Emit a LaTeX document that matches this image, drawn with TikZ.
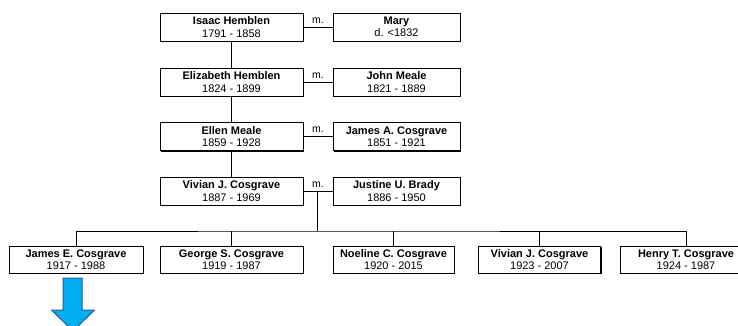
\documentclass[tikz,border=0pt]{standalone}
\usepackage{fontspec}
\setmainfont{Liberation Sans}
\usetikzlibrary{shadows}
\definecolor{arrowfill}{RGB}{0,176,240}
\definecolor{arrowline}{RGB}{47,85,151}
\tikzset{
  person/.style={draw=black, line width=0.9pt, fill=white, align=center,
    inner sep=0pt, minimum height=28pt,
    font=\fontsize{11}{12.5}\selectfont,
    drop shadow={shadow xshift=1.4pt, shadow yshift=-1.4pt, opacity=1, fill=black}},
  link/.style={draw=black, line width=0.9pt},
  marr/.style={font=\fontsize{10.5}{12}\selectfont, inner sep=0pt},
}
\begin{document}
\begin{tikzpicture}[x=1pt,y=-1pt]
\useasboundingbox (0,0) rectangle (738,325);
\clip (0,0) rectangle (738,325);
% generations
\node[person, minimum width=143pt] (isaac) at (231.5,27) {\textbf{Isaac Hemblen}\\1791 - 1858};
\node[person, minimum width=127pt] (mary) at (396.5,27) {\textbf{Mary}\\d. <1832};
\node[person, minimum width=143pt] (eliz) at (231.5,82) {\textbf{Elizabeth Hemblen}\\1824 - 1899};
\node[person, minimum width=127pt] (john) at (396.5,82) {\textbf{John Meale}\\1821 - 1889};
\node[person, minimum width=143pt] (ellen) at (231.5,136.5) {\textbf{Ellen Meale}\\1859 - 1928};
\node[person, minimum width=127pt] (jamesa) at (396.5,136.5) {\textbf{James A. Cosgrave}\\1851 - 1921};
\node[person, minimum width=143pt] (vivian) at (231.5,191) {\textbf{Vivian J. Cosgrave}\\1887 - 1969};
\node[person, minimum width=127pt] (justine) at (396.5,191) {\textbf{Justine U. Brady}\\1886 - 1950};
% children
\node[person, minimum width=134pt, minimum height=27pt] (jamese) at (76,259.5) {\textbf{James E. Cosgrave}\\1917 - 1988};
\node[person, minimum width=143pt, minimum height=27pt] (george) at (231.5,259.5) {\textbf{George S. Cosgrave}\\1919 - 1987};
\node[person, minimum width=121pt, minimum height=27pt] (noeline) at (393.5,259.5) {\textbf{Noeline C. Cosgrave}\\1920 - 2015};
\node[person, minimum width=122pt, minimum height=27pt] (vivianb) at (539.5,259.5) {\textbf{Vivian J. Cosgrave}\\1923 - 2007};
\node[person, minimum width=132pt, minimum height=27pt] (henry) at (686,259.5) {\textbf{Henry T. Cosgrave}\\1924 - 1987};
% marriages
\draw[link] (isaac.east) -- (mary.west);
\draw[link] (eliz.east) -- (john.west);
\draw[link] (ellen.east) -- (jamesa.west);
\draw[link] (vivian.east) -- (justine.west);
\node[marr] (m1) at (318,20.5) {m.};
\node[marr] (m2) at (318,75.5) {m.};
\node[marr] (m3) at (318,130) {m.};
\node[marr] (m4) at (318,184.5) {m.};
% descent
\draw[link] (isaac.south) -- (eliz.north);
\draw[link] (eliz.south) -- (ellen.north);
\draw[link] (ellen.south) -- (vivian.north);
\coordinate (fam) at (317,191);
\coordinate (bar) at (317,231);
\draw[link] (fam) -- (bar);
\draw[link] (jamese.north) |- (bar) -| (henry.north);
\draw[link] (george.north) -- (george.north |- bar);
\draw[link] (noeline.north) -- (noeline.north |- bar);
\draw[link] (vivianb.north) -- (vivianb.north |- bar);
% block arrow
\draw[fill=arrowfill, draw=arrowline, line width=1pt]
  (63,278) -- (82,278) -- (82,310) -- (94.5,310) -- (73,331) -- (51.5,310) -- (63,310) -- cycle;
\end{tikzpicture}
\end{document}
